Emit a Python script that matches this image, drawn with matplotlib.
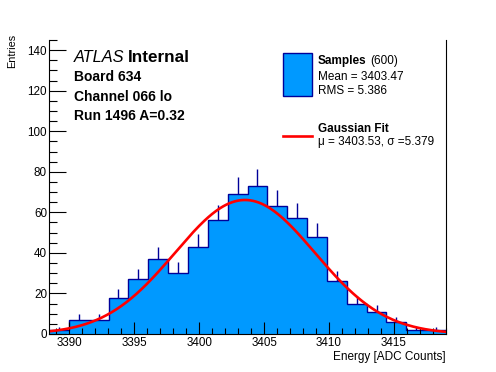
import numpy as np
import matplotlib
matplotlib.use('Agg')
import matplotlib.pyplot as plt
from matplotlib.ticker import MultipleLocator

### Dados

X_MIN, X_MAX = 3388.45, 3419.0     # faixa do histograma (20 bins)
counts = [2, 7, 7, 18, 27, 37, 30, 43, 56, 69,
          73, 63, 57, 48, 26, 15, 11, 6, 2, 2]
fit_mu = 3403.53
fit_sigma = 5.379
fit_amp = 66.1
x_ticks = [3390, 3395, 3400, 3405, 3410, 3415]
y_ticks = [0, 20, 40, 60, 80, 100, 120, 140]

FILL = '#0099ff'
EDGE = '#000099'
W, H = 496, 372

plt.rcParams['font.family'] = ['Liberation Sans', 'DejaVu Sans']

fig = plt.figure(figsize=(W / 100, H / 100), dpi=100)
ax = fig.add_axes([49 / W, 1 - 334 / H, (446 - 49) / W, (334 - 40) / H])

edges = np.linspace(X_MIN, X_MAX, len(counts) + 1)
centers = (edges[:-1] + edges[1:]) / 2
counts = np.array(counts)

# Histograma preenchido + contorno
ax.stairs(counts, edges, fill=True, color=FILL, lw=0)
ax.stairs(counts, edges, color=EDGE, lw=1.0, baseline=None)
# Barras de erro (só a parte de cima aparece)
ax.vlines(centers, counts, counts + np.sqrt(counts), color=EDGE, lw=1.0)

# Ajuste gaussiano
xs = np.linspace(X_MIN, X_MAX, 400)
ax.plot(xs, fit_amp * np.exp(-0.5 * ((xs - fit_mu) / fit_sigma) ** 2),
        color='red', lw=1.9)

ax.set_xlim(X_MIN, X_MAX)
ax.set_ylim(0, 145)
ax.set_xticks(x_ticks)
ax.set_yticks(y_ticks)
ax.xaxis.set_minor_locator(MultipleLocator(1))
ax.yaxis.set_minor_locator(MultipleLocator(5))
ax.tick_params(axis='x', which='major', direction='in', length=9, width=0.8,
               labelsize=8.4, pad=2.5)
ax.tick_params(axis='x', which='minor', direction='in', length=4.5, width=0.8)
ax.tick_params(axis='y', which='major', direction='in', length=12, width=0.8,
               labelsize=8.4, pad=1.5)
ax.tick_params(axis='y', which='minor', direction='in', length=6, width=0.8)
ax.spines['top'].set_visible(False)
for s in ['left', 'bottom', 'right']:
    ax.spines[s].set_linewidth(0.8)

def px(x, y):
    return x / W, 1 - y / H

fig.text(*px(446, 357), 'Energy [ADC Counts]', ha='right', va='center', fontsize=8.5)
fig.text(*px(12, 51), 'Entries', ha='center', va='center', rotation=90, fontsize=7.8)

# Texto ATLAS
fig.text(*px(73.5, 57), 'ATLAS', ha='left', va='center', fontsize=11.8, style='italic')
fig.text(*px(128, 57), 'Internal', ha='left', va='center', fontsize=12.3, weight='bold')
fig.text(*px(73.5, 77), 'Board 634', ha='left', va='center', fontsize=10, weight='bold')
fig.text(*px(73.5, 97), 'Channel 066 lo', ha='left', va='center', fontsize=10, weight='bold')
fig.text(*px(73.5, 116), 'Run 1496 A=0.32', ha='left', va='center', fontsize=10, weight='bold')

# Legenda manual
fig.patches.append(plt.Rectangle(px(283, 96), 29 / W, 43 / H, transform=fig.transFigure,
                                 facecolor=FILL, edgecolor=EDGE, lw=1))
fig.text(*px(317.5, 61), 'Samples', ha='left', va='center', fontsize=8.5, weight='bold')
fig.text(*px(370, 61), '(600)', ha='left', va='center', fontsize=8.5)
fig.text(*px(317.5, 77), 'Mean = 3403.47', ha='left', va='center', fontsize=8.5)
fig.text(*px(317.5, 90.5), 'RMS = 5.386', ha='left', va='center', fontsize=8.5)
fig.lines.append(plt.Line2D([283 / W, 312 / W], [1 - 136 / H] * 2, transform=fig.transFigure,
                            color='red', lw=1.9))
fig.text(*px(317.5, 129.5), 'Gaussian Fit', ha='left', va='center', fontsize=8.5, weight='bold')
fig.text(*px(317.5, 142), 'μ = 3403.53, σ =5.379', ha='left', va='center', fontsize=8.5)

fig.savefig('out.png', dpi=100)
